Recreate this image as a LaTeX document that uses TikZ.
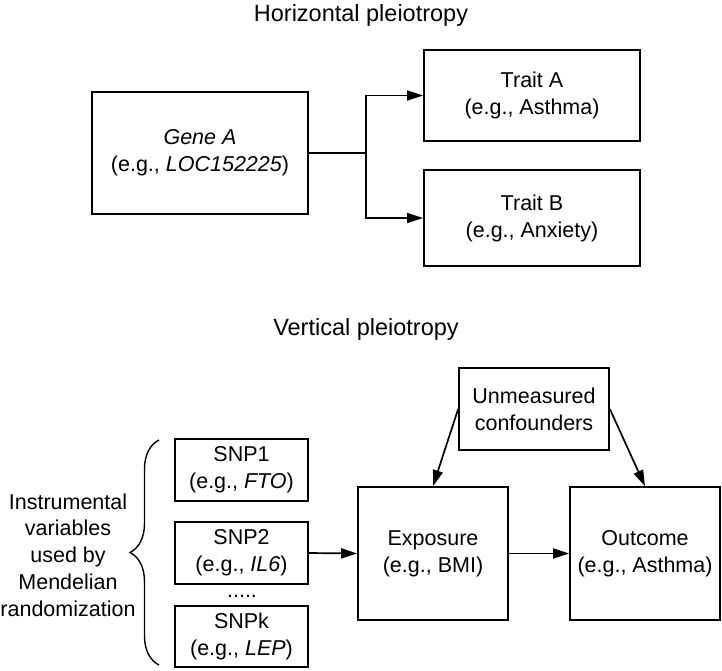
\documentclass[tikz,border=0pt]{standalone}
\usepackage{fontspec}
\setmainfont{Liberation Sans}
\usetikzlibrary{arrows.meta,decorations.pathreplacing}
\begin{document}
\begin{tikzpicture}[x=1pt,y=-1pt,
  box/.style={draw, line width=1.7pt, rectangle, align=center, inner sep=0pt,
    font=\fontsize{21.5}{27}\selectfont},
  ttl/.style={anchor=base, inner sep=0pt, font=\fontsize{23.5}{28}\selectfont},
  lbl/.style={align=center, inner sep=0pt, font=\fontsize{21.5}{26.7}\selectfont},
  arr/.style={line width=1.7pt, -{Triangle[length=16pt,width=10pt]}},
  ln/.style={line width=1.7pt}]
\useasboundingbox (0,0) rectangle (722,670);
% titles
\node[ttl] (t1) at (361,21) {Horizontal pleiotropy};
\node[ttl] (t2) at (366,335) {Vertical pleiotropy};
% horizontal
\node[box, minimum width=216pt, minimum height=122pt] (gene) at (200,153)
  {\textit{Gene A}\\(e.g., \textit{LOC152225})};
\node[box, minimum width=216pt, minimum height=91pt] (ta) at (532,95.5)
  {Trait A\\(e.g., Asthma)};
\node[box, minimum width=216pt, minimum height=96pt] (tb) at (532,218)
  {Trait B\\(e.g., Anxiety)};
\coordinate (j) at (366,153);
\draw[ln] (gene.east) -- (j);
\draw[arr] (j) |- (ta.west);
\draw[arr] (j) |- (tb.west);
% vertical
\node[box, minimum width=150pt, minimum height=82pt] (conf) at (534,409)
  {Unmeasured\\confounders};
\node[box, minimum width=150pt, minimum height=133pt] (exp) at (433,553.5)
  {Exposure\\(e.g., BMI)};
\node[box, minimum width=150pt, minimum height=133pt] (out) at (645,553.5)
  {Outcome\\(e.g., Asthma)};
\node[box, minimum width=133pt, minimum height=62pt] (s1) at (241.5,470)
  {SNP1\\(e.g., \textit{FTO})};
\node[box, minimum width=133pt, minimum height=62pt] (s2) at (241.5,553)
  {SNP2\\(e.g., \textit{IL6})};
\node[box, minimum width=133pt, minimum height=61pt] (sk) at (241.5,636.5)
  {SNPk\\(e.g., \textit{LEP})};
\node[anchor=base, inner sep=0pt, font=\fontsize{21.5}{27}\selectfont] (dots) at (242,597) {.....};
\node[lbl] (iv) at (68,555)
  {Instrumental\\variables\\used by\\Mendelian\\randomization};
\coordinate (b1) at (159,665);
\coordinate (b2) at (159,440);
\draw[line width=1.4pt, decorate, decoration={brace, amplitude=29pt}] (b1) -- (b2);
\draw[arr] (s2.east) -- (exp.west);
\draw[arr] (exp.east) -- (out.west);
\draw[arr] (conf.west) -- (exp.north);
\draw[arr] (conf.east) -- (out.north);
\end{tikzpicture}
\end{document}
